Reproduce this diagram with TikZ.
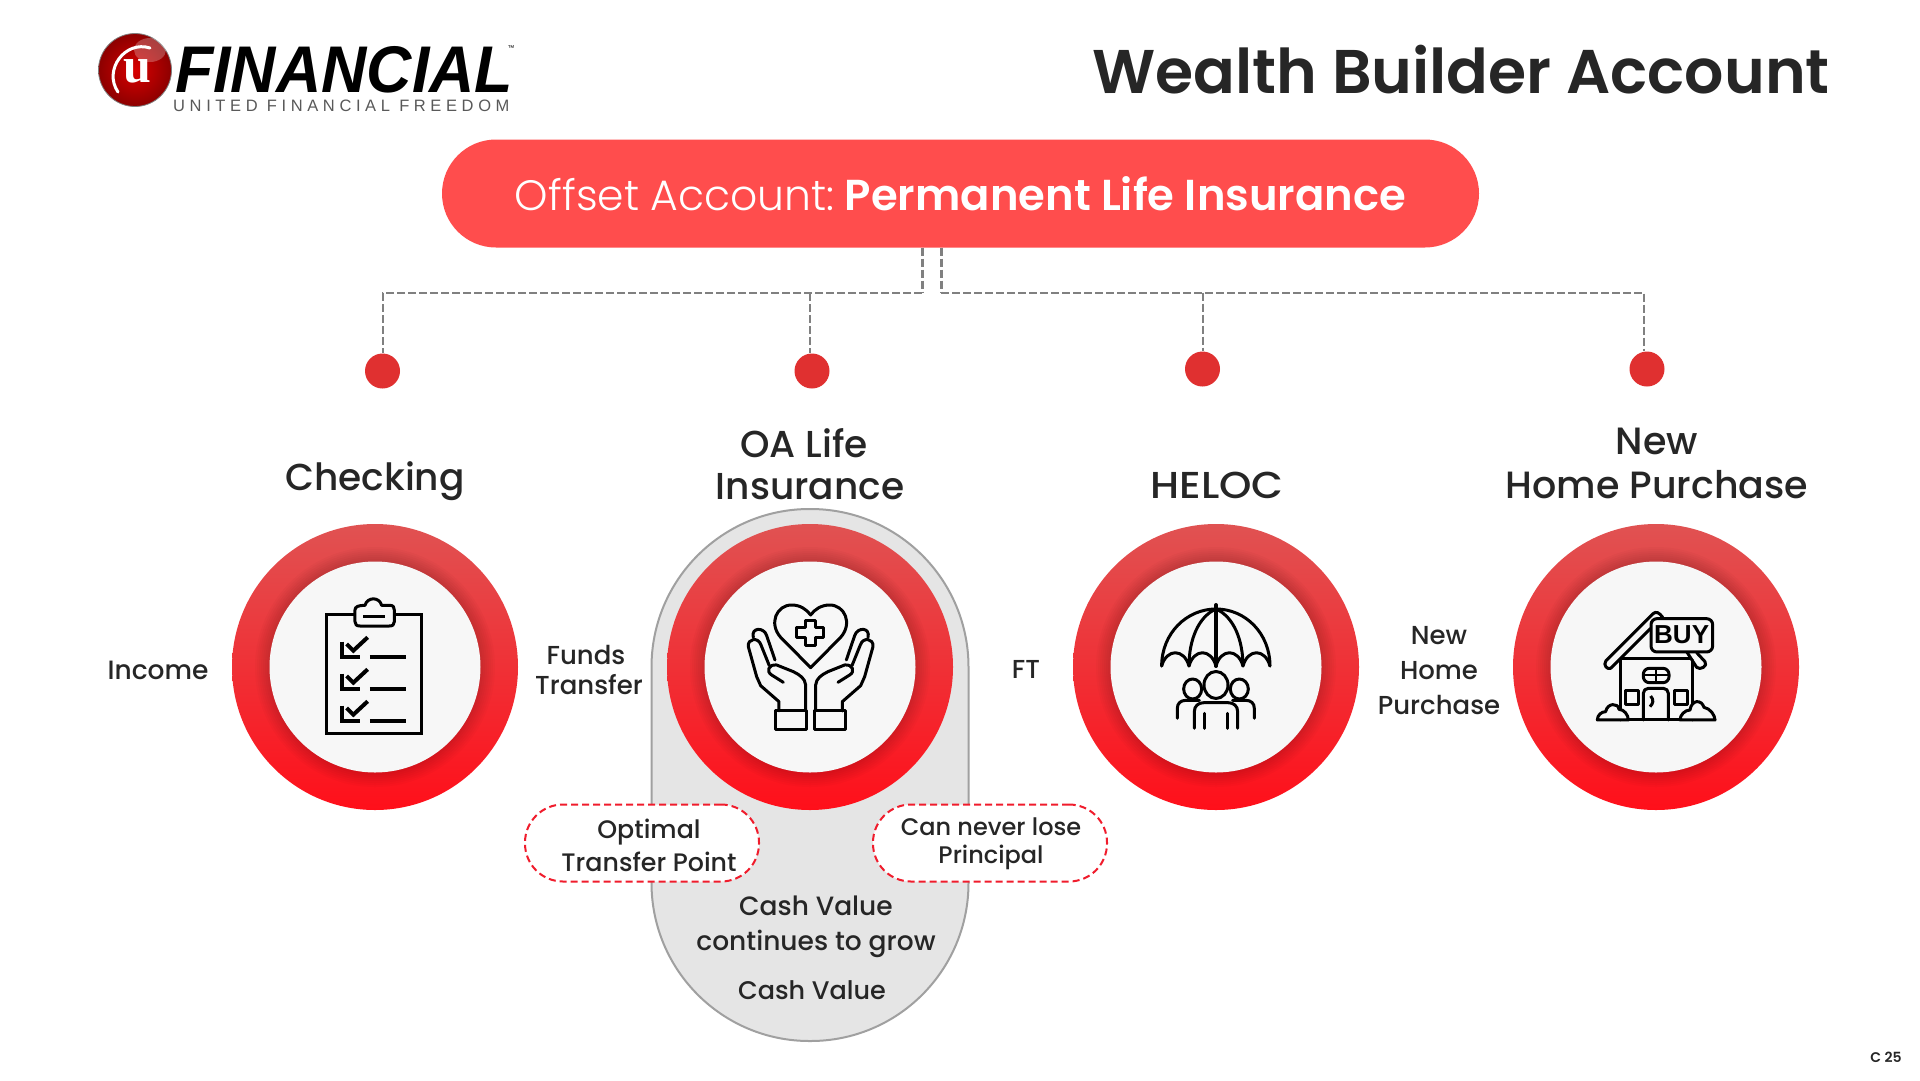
\documentclass[tikz,border=0pt]{standalone}
\usepackage{fontspec}
\setmainfont{Poppins}[UprightFont=* Medium,BoldFont=* SemiBold]
\newfontfamily\poplight{Poppins Light}
\newfontfamily\popsemi{Poppins SemiBold}
\newfontfamily\logofont{Liberation Sans}[UprightFont=* Bold Italic]
\newfontfamily\logou{Liberation Serif}[UprightFont=* Bold]
\newfontfamily\logosub{Liberation Sans}[LetterSpace=28]
\newfontfamily\buyfont{Liberation Sans Bold}
\definecolor{ink}{HTML}{262626}
\definecolor{pillred}{HTML}{FF4D4D}
\definecolor{dotred}{HTML}{E03030}
\definecolor{ringtop}{HTML}{E05252}
\definecolor{ringbot}{HTML}{FF0F1A}
\definecolor{innerw}{HTML}{F7F7F7}
\definecolor{capfill}{HTML}{E5E5E5}
\definecolor{capline}{HTML}{A0A0A0}
\definecolor{dashgrey}{HTML}{808080}
\definecolor{dashred}{HTML}{F01C2C}
\tikzset{
  lbl/.style={text=ink,align=center,inner sep=0pt,font=\fontsize{26}{35}\selectfont},
  head/.style={text=ink,align=center,inner sep=0pt,font=\fontsize{37.5}{42}\selectfont},
  conn/.style={draw=dashgrey,line width=2pt,dash pattern=on 8pt off 3pt},
  stub/.style={draw=dashgrey,line width=3pt,dash pattern=on 8pt off 3pt},
  dotnode/.style={circle,fill=dotred,minimum size=35pt,inner sep=0pt},
  ringnode/.style={circle,minimum size=286pt,inner sep=0pt,top color=ringtop,bottom color=ringbot},
  corenode/.style={circle,minimum size=211pt,inner sep=0pt,fill=innerw},
  notepill/.style={draw=dashred,fill=white,line width=2pt,dash pattern=on 7pt off 4pt,rounded corners=38pt,minimum width=234pt,minimum height=77pt,inner sep=0pt},
  ico/.style={draw=black,line width=3pt,line cap=round,line join=round},
}
\newcommand{\ringat}[3]{%
  \node[ringnode] (#1) at (#2,#3) {};
  \foreach \rr in {106,108,...,120} {\fill[black,opacity=.02] (#2,#3) circle (\rr pt);}
  \node[corenode] (#1c) at (#2,#3) {};
}
\begin{document}
\begin{tikzpicture}[x=1pt,y=-1pt]
\useasboundingbox (0,0) rectangle (1920,1080);
\fill[white] (0,0) rectangle (1920,1080);

% logo
\shade[inner color=red!85!black,outer color=red!55!black,draw=black!50,line width=.8pt] (135,70) circle (36.5pt);
\fill[white,opacity=.25] (150,50) ellipse (16pt and 12pt);
\draw[white,line width=3pt,line cap=round] (150,48) .. controls (125,40) and (103,70) .. (118,92);
\node[inner sep=0pt,text=white] (logoletter) at (137,71) {\fontsize{50}{50}\selectfont\logou u};
\node[inner sep=0pt,anchor=west,text=black,xscale=0.95] (logoword) at (175,70) {\fontsize{66}{66}\selectfont\logofont FINANCIAL};
\node[inner sep=0pt,text=black] (logotm) at (511,48) {\fontsize{7}{7}\selectfont\logosub ™};
\node[inner sep=0pt,anchor=west,text=black!65] (logosub) at (173,105.5) {\fontsize{16.5}{16.5}\selectfont\logosub UNITED FINANCIAL FREEDOM};

% title
\node[inner sep=0pt,anchor=east,text=ink] (title) at (1830,70) {\popsemi\fontsize{61.7}{61.7}\selectfont Wealth Builder Account};

% capsule
\node[draw=capline,fill=capfill,line width=2pt,rounded corners=158pt,minimum width=317pt,minimum height=532pt,inner sep=0pt] (capsule) at (810,775) {};

% connectors
\coordinate (ja) at (922,293);
\coordinate (jb) at (941,292.5);
\coordinate (t1) at (383,293);
\coordinate (t2) at (810,293);
\coordinate (t3) at (1203,292.5);
\coordinate (t4) at (1644,292.5);
\node[dotnode] (dot1) at (382.5,371) {};
\node[dotnode] (dot2) at (812,371) {};
\node[dotnode] (dot3) at (1202.5,369) {};
\node[dotnode] (dot4) at (1647,369) {};
\draw[conn] (ja) -- (t1) -- (dot1.north -| t1);
\draw[conn] (t2) -- (dot2.north -| t2);
\draw[conn] (jb) -- (t4) -- (dot4.north -| t4);
\draw[conn] (t3) -- (dot3.north -| t3);

% top pill
\node[fill=pillred,rounded corners=54pt,minimum width=1037pt,minimum height=108pt,inner sep=0pt,text=white] (pill) at (960.5,193.5)
  {{\poplight\fontsize{42.5}{42.5}\selectfont Offset Account:}\hspace{10pt}{\popsemi\fontsize{43.3}{43.3}\selectfont Permanent Life Insurance}};
\draw[stub] (pill.south -| ja) -- (ja);
\draw[stub] (pill.south -| jb) -- (jb);

% rings
\ringat{r1}{375}{667}
\ringat{r2}{810}{667}
\ringat{r3}{1216}{667}
\ringat{r4}{1656}{667}

% headings
\node[head] (h1) at (375,481) {Checking};
\node[head] (h2) at (810,464) {OA Life\hspace*{12pt}\\Insurance};
\node[head,xscale=1.1] (h3) at (1217,485) {HELOC};
\node[head,font=\fontsize{38}{44}\selectfont] (h4) at (1657,463) {New\\Home Purchase};

% side labels
\node[lbl,font=\fontsize{26.5}{35}\selectfont] (l1) at (158,670) {Income};
\node[lbl,font=\fontsize{26}{30}\selectfont] (l2) at (589,670) {Funds\hspace*{6pt}\\Transfer};
\node[lbl] (l3) at (1026,669) {FT};
\node[lbl] (l4) at (1439,671) {New\\Home\\Purchase};

% notes
\node[notepill] (n1) at (642,843) {};
\node[notepill] (n2) at (990,843) {};
\node[lbl,font=\fontsize{25.3}{33}\selectfont] (n1t) at (649,845) {Optimal\\Transfer Point};
\node[lbl,font=\fontsize{24}{28}\selectfont] (n2t) at (991,844) {Can never lose\\Principal};
\node[lbl,font=\fontsize{26.5}{35}\selectfont] (c1) at (816,927) {Cash Value\\continues to grow};
\node[lbl,font=\fontsize{25.5}{35}\selectfont] (c2) at (812,990) {Cash Value};
\node[inner sep=0pt,text=ink] (corner) at (1886,1057) {\popsemi\fontsize{14}{14}\selectfont C 25};

% icon: clipboard
\begin{scope}[shift={(230pt,-520pt)},x=.3333pt,y=-.3333pt]
  \draw[ico,line cap=butt,line join=miter] (291,284) rectangle (575,640);
  \filldraw[ico,fill=innerw] (375,270) .. controls (375,260) and (385,256) .. (405,256) .. controls (412,230) and (448,230) .. (455,256) -- (480,256) .. controls (490,256) and (493,262) .. (493,270) -- (493,305) .. controls (493,314) and (488,318) .. (478,318) -- (390,318) .. controls (380,318) and (375,314) .. (375,305) -- cycle;
  \draw[ico,line cap=butt] (400,288) -- (465,288);
  \foreach \dy in {0,96,192} {
    \begin{scope}[yshift=-\dy*.3333pt]
      \draw[line width=4pt,black,line join=miter] (335,365) -- (335,412) -- (390,412);
      \draw[line width=4pt,black,line join=miter] (350,372) -- (370,392) -- (413,352);
      \draw[line width=4pt,black] (420,411) -- (528,411);
    \end{scope}
  }
\end{scope}

% icon: hands
\begin{scope}[shift={(660pt,-520pt)},x=.3333pt,y=-.3333pt]
  \draw[ico] (452,443) -- (362,352) .. controls (325,310) and (350,255) .. (395,255) .. controls (420,255) and (440,268) .. (452,285) .. controls (464,268) and (484,255) .. (509,255) .. controls (554,255) and (579,310) .. (542,352) -- cycle;
  \draw[ico] (437,300) -- (467,300) -- (467,323) -- (492,323) -- (492,353) -- (467,353) -- (467,377) -- (437,377) -- (437,353) -- (411,353) -- (411,323) -- (437,323) -- cycle;
  \foreach \sx/\tx in {1/0,-1/904} {
    \begin{scope}[xshift=\tx*.3333pt,xscale=\sx]
      \draw[ico] (346,573) rectangle (441,630);
      \draw[ico] (357,573) -- (357,545) -- (302,497) -- (290,470) -- (265,380) .. controls (262,355) and (295,350) .. (303,375) -- (328,437);
      \draw[ico] (437,573) -- (437,495) .. controls (435,475) and (420,465) .. (400,455) -- (350,435) .. controls (325,432) and (318,455) .. (335,465) -- (370,487);
      \draw[ico] (280,352) .. controls (272,322) and (312,320) .. (320,347) -- (345,420);
    \end{scope}
  }
\end{scope}

% icon: umbrella and family
\begin{scope}[shift={(1080pt,-520pt)},x=.3333pt,y=-.3333pt]
  \draw[ico] (245,438) .. controls (245,340) and (320,267) .. (408,267) .. controls (496,267) and (570,340) .. (570,438);
  \draw[ico] (245,438) .. controls (260,385) and (312,385) .. (327,438) .. controls (342,385) and (393,385) .. (408,438) .. controls (423,385) and (474,385) .. (489,438) .. controls (504,385) and (555,385) .. (570,438);
  \draw[ico] (408,267) .. controls (355,290) and (327,360) .. (327,438);
  \draw[ico] (408,267) .. controls (461,290) and (489,360) .. (489,438);
  \draw[ico,line width=4pt] (408,255) -- (408,438);
  \draw[ico] (408,495) ellipse (12pt and 13.5pt);
  \draw[ico] (338,507) ellipse (9pt and 10pt);
  \draw[ico] (478,507) ellipse (9pt and 10pt);
  \draw[ico] (343,625) -- (343,575) .. controls (343,558) and (355,548) .. (372,548) -- (444,548) .. controls (461,548) and (473,558) .. (473,575) -- (473,625);
  \draw[ico] (372,580) -- (372,625);
  \draw[ico] (443,580) -- (443,625);
  \draw[ico] (292,595) -- (292,565) .. controls (292,550) and (302,541) .. (318,541) -- (358,541);
  \draw[ico] (523,595) -- (523,565) .. controls (523,550) and (513,541) .. (497,541) -- (458,541);
\end{scope}

% icon: house
\begin{scope}[shift={(1520pt,-520pt)},x=.3333pt,y=-.3333pt]
  \draw[ico] (300,420) -- (300,600);
  \draw[ico] (518,420) -- (518,600);
  \draw[ico] (305,417) -- (512,417);
  \draw[ico] (232,600) -- (585,600);
  \draw[ico] (272,445) .. controls (262,450) and (248,435) .. (258,422) -- (398,282) .. controls (408,272) and (418,278) .. (428,292);
  \draw[ico] (272,445) -- (392,325);
  \draw[ico] (500,395) -- (530,442) .. controls (540,452) and (565,438) .. (555,425) -- (530,398);
  \filldraw[ico,fill=innerw,rounded corners=6pt] (393,296) rectangle (578,396);
  \node[inner sep=0pt,text=black] (buy) at (485,345) {\buyfont\fontsize{26}{26}\selectfont BUY};
  \draw[ico,rounded corners=5pt] (370,600) -- (370,505) -- (445,505) -- (445,600);
  \draw[ico,rounded corners=6pt] (370,445) rectangle (447,488);
  \draw[ico,line width=2pt] (372,466) -- (445,466);
  \draw[ico,line width=2pt] (408,447) -- (408,486);
  \draw[ico,line cap=butt] (392,528) .. controls (402,540) and (400,550) .. (390,560);
  \draw[ico] (315,512) rectangle (355,553);
  \draw[ico] (463,512) rectangle (503,553);
  \filldraw[ico,fill=innerw] (232,600) .. controls (232,585) and (245,575) .. (257,575) .. controls (262,548) and (295,548) .. (297,568) .. controls (312,568) and (325,585) .. (325,600) -- cycle;
  \filldraw[ico,fill=innerw] (480,600) .. controls (480,585) and (495,570) .. (510,570) .. controls (515,538) and (545,538) .. (552,562) .. controls (570,565) and (585,585) .. (585,600) -- cycle;
\end{scope}
\end{tikzpicture}
\end{document}
